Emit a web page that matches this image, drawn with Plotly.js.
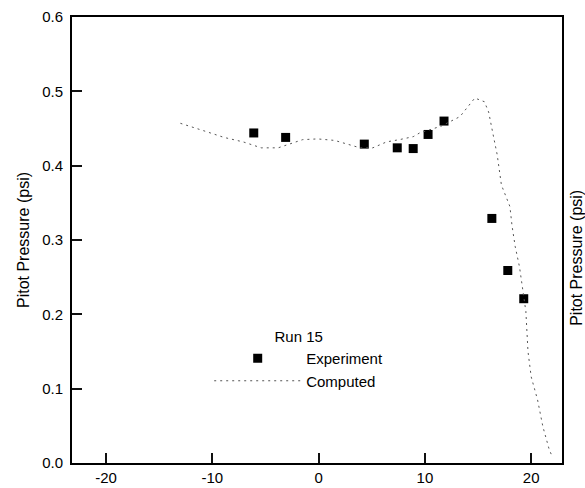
<!DOCTYPE html>
<html>
<head>
<meta charset="utf-8">
<script src="https://cdn.plot.ly/plotly-3.0.1.min.js"></script>
<style>html,body{margin:0;padding:0;background:#fff;}#chart{width:585px;height:488px;}</style>
</head>
<body>
<div id="chart"></div>
<script>
// Experiment (Run 15)
const expX = [-6.1, -3.1, 4.3, 7.4, 8.9, 10.3, 11.8, 16.3, 17.8, 19.3];
const expY = [0.444, 0.438, 0.429, 0.424, 0.423, 0.442, 0.460, 0.329, 0.259, 0.221];
// Computed
const compX = [-13.0, -12.0, -10.6, -8.9, -7.1, -5.4, -3.8, -1.5, -0.1, 1.5, 2.9, 3.9, 5.1, 6.4, 7.6, 8.9, 9.5, 11.5, 13.3, 14.7, 15.6, 16.0, 16.5, 16.8, 17.2, 18.0, 18.2, 18.5, 18.9, 19.2, 19.5, 19.7, 20.0, 20.6, 21.1, 21.7, 22.0];
const compY = [0.457, 0.452, 0.446, 0.438, 0.432, 0.424, 0.424, 0.435, 0.436, 0.434, 0.428, 0.424, 0.424, 0.432, 0.435, 0.439, 0.444, 0.453, 0.466, 0.491, 0.486, 0.472, 0.436, 0.415, 0.374, 0.345, 0.319, 0.291, 0.264, 0.237, 0.204, 0.150, 0.116, 0.085, 0.049, 0.018, 0.008];
const xTicks = [-20, -10, 0, 10, 20];
const yTicks = [0, 0.1, 0.2, 0.3, 0.4, 0.5, 0.6];
const yTickText = ['0.0', '0.1', '0.2', '0.3', '0.4', '0.5', '0.6'];

const FAM = 'Liberation Sans, Arial, sans-serif';
function f(size) { return {size: size, family: FAM, color: '#000'}; }

const traces = [
  {x: expX, y: expY, type: 'scatter', mode: 'markers', name: 'Experiment',
   marker: {symbol: 'square', size: 9, color: '#000'}},
  {x: compX, y: compY, type: 'scatter', mode: 'lines', name: 'Computed',
   line: {color: '#555', width: 1, dash: '2px,4px'}}
];

const layout = {
  width: 585, height: 488,
  margin: {l: 72, r: 23, t: 17, b: 25},
  showlegend: true,
  legend: {
    x: 0.28, y: 0.315, xanchor: 'left', yanchor: 'top',
    font: f(15), itemwidth: 87, tracegroupgap: 0,
    title: {text: 'Run 15', side: 'top center', font: f(15)}
  },
  xaxis: {
    range: [-23.2, 22.9], tickmode: 'array', tickvals: xTicks, ticktext: xTicks.map(String),
    ticks: 'inside', ticklen: 10, tickwidth: 2, tickcolor: '#111',
    showline: true, mirror: true, linewidth: 2, linecolor: '#000',
    showgrid: false, zeroline: false, tickfont: f(15)
  },
  yaxis: {
    range: [0, 0.6], tickmode: 'array', tickvals: yTicks, ticktext: yTickText,
    ticks: 'inside', ticklen: 10, tickwidth: 2, tickcolor: '#111',
    showline: true, mirror: true, linewidth: 2, linecolor: '#000',
    showgrid: false, zeroline: false, tickfont: f(15), ticklabelstandoff: 4,
    title: {text: 'Pitot Pressure (psi)', font: f(16)}
  },
  annotations: [
    {xref: 'paper', yref: 'paper', x: 1.0, y: 0.46, xshift: 15, xanchor: 'center', yanchor: 'middle',
     text: 'Pitot Pressure (psi)', textangle: -90, showarrow: false, font: f(16)}
  ]
};

Plotly.newPlot('chart', traces, layout, {staticPlot: true});
</script>
</body>
</html>
